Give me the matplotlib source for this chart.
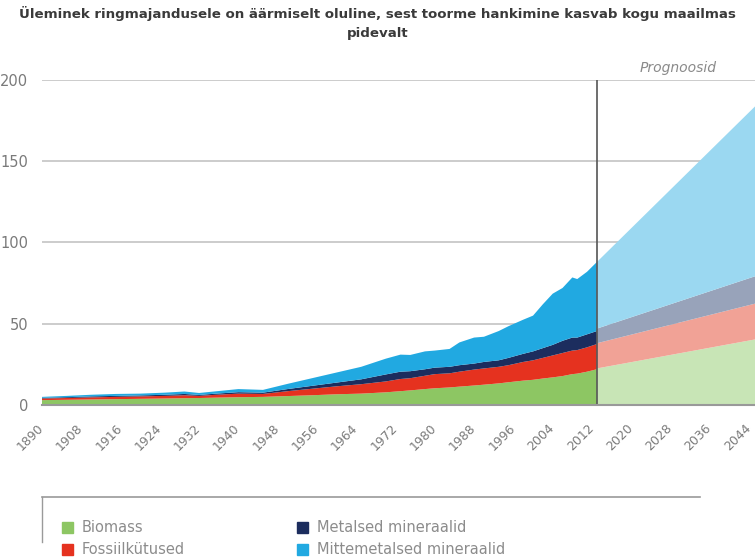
import numpy as np
import matplotlib.pyplot as plt
import matplotlib.transforms as mtransforms
from matplotlib.lines import Line2D
from matplotlib.patches import Rectangle

# ajalooline andmestik (miljardit tonni)
years = [1900, 1905, 1910, 1915, 1920, 1925, 1929, 1932, 1935, 1940, 1945,
         1950, 1955, 1960, 1965, 1970, 1973, 1975, 1978, 1980, 1983, 1985,
         1988, 1990, 1993, 1995, 1998, 2000, 2002, 2004, 2006, 2008, 2009,
         2011, 2013]
biomass = [3.0, 3.2, 3.4, 3.6, 3.8, 4.0, 4.2, 4.3, 4.5, 4.8, 5.0,
           5.5, 6.0, 6.6, 7.0, 7.8, 8.5, 9.0, 9.8, 10.3, 10.8, 11.3,
           12.0, 12.5, 13.3, 14.0, 15.0, 15.5, 16.3, 17.0, 17.8, 19.0, 19.3,
           20.5, 22.0]
fossil = [1.0, 1.1, 1.3, 1.4, 1.5, 1.6, 1.8, 1.3, 1.7, 2.2, 1.8,
          3.0, 4.0, 4.9, 5.8, 6.7, 7.5, 7.5, 8.2, 8.7, 8.7, 9.2,
          9.8, 10.0, 10.2, 10.5, 11.5, 12.0, 12.7, 13.5, 14.2, 14.5, 14.5,
          15.0, 15.5]
metals = [0.4, 0.5, 0.6, 0.6, 0.6, 0.7, 0.8, 0.6, 0.7, 0.9, 0.8,
          1.3, 1.8, 2.3, 3.0, 4.3, 4.5, 4.3, 4.0, 4.0, 4.0, 4.0,
          3.7, 4.0, 4.0, 4.5, 5.0, 5.5, 6.0, 6.5, 7.5, 8.0, 7.7,
          8.0, 8.0]
nonmetal = [0.6, 0.8, 1.0, 1.2, 1.1, 1.3, 1.5, 1.2, 1.4, 1.9, 1.7,
            3.2, 4.7, 6.2, 7.7, 9.7, 10.5, 10.0, 11.0, 10.5, 11.0, 14.0,
            16.0, 15.5, 18.0, 19.5, 21.0, 22.0, 27.0, 31.5, 32.5, 37.0, 36.0,
            38.5, 42.5]

# prognoos
proj_years = [2013, 2050]
proj_biomass = [22.5, 43]
proj_fossil = [15.5, 23]
proj_metals = [9, 18]
proj_nonmetal = [41, 114]

tick_years = list(range(1900, 2045, 8))
tick_labels = ["1890"] + [str(y) for y in tick_years[1:]]

labels = ["Biomass", "Fossiilkütused", "Metalsed mineraalid", "Mittemetalsed mineraalid"]
colors = ["#8dc663", "#e5321f", "#1c2d5e", "#21a9e1"]
light = ["#c8e5b6", "#f1a296", "#98a3ba", "#9bd8f1"]

fig = plt.figure(figsize=(7.55, 5.6), dpi=100)
ax = fig.add_axes([42 / 755, 155 / 560, 713 / 755, 325 / 560])

ax.stackplot(years, biomass, fossil, metals, nonmetal, colors=colors, lw=0, zorder=2)
ax.stackplot(proj_years, proj_biomass, proj_fossil, proj_metals, proj_nonmetal,
             colors=light, lw=0, zorder=2)
ax.axvline(2013, color="#555555", lw=1.2, zorder=3)

ax.set_xlim(1900, 2045.2)
ax.set_ylim(0, 200)
ax.set_yticks([0, 50, 100, 150, 200])
ax.yaxis.grid(True, color="#c4c4c4", lw=1.2, zorder=0)
ax.set_axisbelow(True)
for s in ["top", "right", "left"]:
    ax.spines[s].set_visible(False)
ax.spines["bottom"].set_color("#999999")
ax.spines["bottom"].set_linewidth(1.5)
ax.spines["bottom"].set_zorder(4)
ax.tick_params(axis="y", length=0, pad=10, labelsize=10.5, labelcolor="#7a7a7a")
ax.set_xticks(tick_years)
ax.set_xticklabels(tick_labels, rotation=45, ha="right", rotation_mode="anchor")
ax.tick_params(axis="x", length=0, pad=12, labelsize=9, labelcolor="#7a7a7a")
shift = mtransforms.ScaledTranslation(-5 / 100, 0, fig.dpi_scale_trans)
for t in ax.get_xticklabels():
    t.set_transform(t.get_transform() + shift)

ax.text(2029.5, 203, "Prognoosid", style="italic", color="#8a8a8a", fontsize=10,
        ha="center", va="bottom")

fig.text(0.5, 0.99, "Üleminek ringmajandusele on äärmiselt oluline, sest toorme hankimine kasvab kogu maailmas\npidevalt",
         ha="center", va="top", fontsize=9.6, fontweight="bold", color="#3a3a3a",
         linespacing=1.6)

# legendi kast
fig.add_artist(Line2D([42 / 755, 700 / 755], [1 - 497 / 560, 1 - 497 / 560],
                      color="#9a9a9a", lw=1.2))
fig.add_artist(Line2D([42 / 755, 42 / 755], [1 - 497 / 560, 1 - 542 / 560],
                      color="#9a9a9a", lw=1))
pos = [(62, 527), (62, 549), (297, 527), (297, 549)]
for (px, py), lab, c in zip(pos, labels, colors):
    fig.add_artist(Rectangle((px / 755, 1 - (py + 6) / 560), 11 / 755, 11 / 560,
                             color=c, transform=fig.transFigure))
    fig.text((px + 20) / 755, 1 - py / 560, lab, fontsize=10.5, color="#8c8c8c",
             va="center", ha="left")

fig.savefig("out.png", dpi=100)
